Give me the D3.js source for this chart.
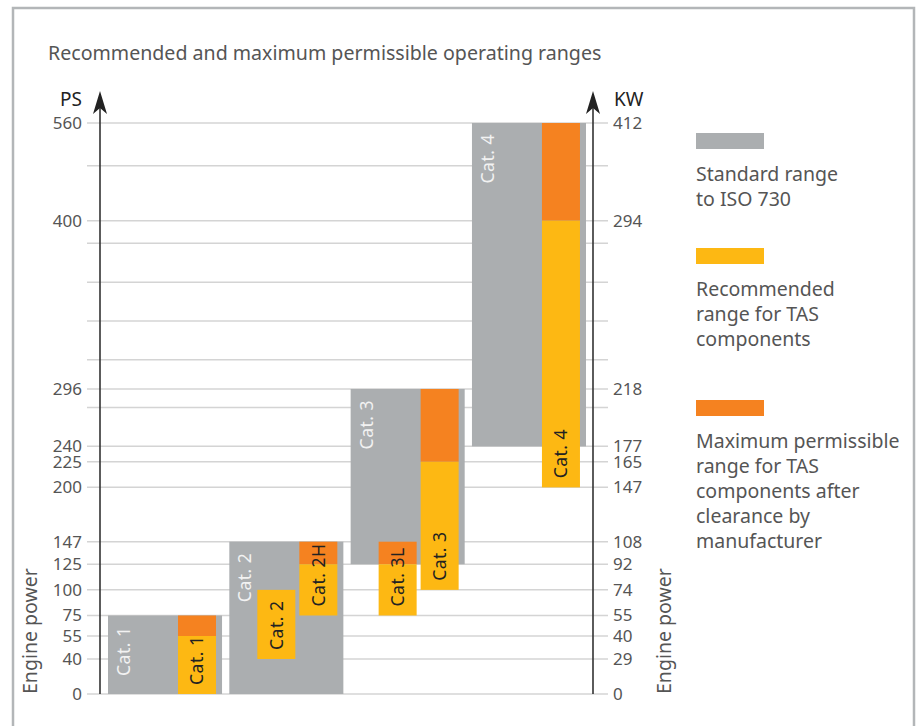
<!DOCTYPE html>
<meta charset="utf-8">
<style>
  body { margin: 0; background: #fff; }
  svg text { font-family: "Noto Sans", "Open Sans", sans-serif; }
</style>
<script src="https://d3js.org/d3.v7.min.js"></script>
<div id="chart"></div>
<script>

  // --- data (engine power in PS) ---
  var categories = ["Cat. 1", "Cat. 2", "Cat. 3", "Cat. 4"]
  var standardLow = [0, 0, 125, 240]
  var standardHigh = [75, 147, 296, 560]

  var tasLabels = ["Cat. 1", "Cat. 2", "Cat. 2H", "Cat. 3L", "Cat. 3", "Cat. 4"]
  var tasGroup = ["Cat. 1", "Cat. 2", "Cat. 2", "Cat. 3", "Cat. 3", "Cat. 4"]
  var tasSlot = [1, 0, 1, 0, 1, 1]
  var recLow = [0, 40, 75, 75, 100, 200]
  var recHigh = [55, 100, 125, 125, 225, 400]
  var maxHigh = [75, 100, 147, 147, 296, 560]

  var psTicks = [0, 40, 55, 75, 100, 125, 147, 200, 225, 240, 296, 400, 560]
  var kwTicks = [0, 29, 40, 55, 74, 92, 108, 147, 165, 177, 218, 294, 412]
  var extraGrid = [490, 386, 362, 338, 314, 278]

  var legendLabels = [
    ["Standard range", "to ISO 730"],
    ["Recommended", "range for TAS", "components"],
    ["Maximum permissible", "range for TAS", "components after", "clearance by", "manufacturer"]
  ]

  var colGray = "#abaeb0", colYellow = "#fdb813", colOrange = "#f58220"

  var W = 922, H = 726
  var plotTop = 123, plotBottom = 694
  var axisLeftX = 100, axisRightX = 593

  var svg = d3.select("#chart").append("svg")
    .attr("width", W).attr("height", H)

  // frame
  svg.append("path")
    .attr("d", "M13,740 L13,8 L914,8 L914,740")
    .attr("fill", "none")
    .attr("stroke", "#b3b6b8")
    .attr("stroke-width", 2.5)

  svg.append("text")
    .attr("x", 48).attr("y", 60)
    .style("font-size", "19.6px")
    .style("fill", "#555")
    .text("Recommended and maximum permissible operating ranges")

  // piecewise scale, the chart's axis is not linear
  var h = plotBottom - plotTop
  var y = d3.scaleLinear()
    .domain([0, 40, 55, 296, 400, 560])
    .range([0, 0.0613, 0.1016, 0.5342, 0.829, 1].map(function (f) { return plotBottom - f * h }))

  var x = d3.scaleBand()
    .domain(categories)
    .range([108, 586])
    .paddingInner(0.06)

  var slot = d3.scaleBand()
    .domain([0, 1])
    .range([28, 108])
    .paddingInner(0.095)

  // gridlines
  svg.append("g")
    .selectAll("line")
    .data(psTicks.concat(extraGrid))
    .enter().append("line")
    .attr("x1", 87).attr("x2", 608)
    .attr("y1", function (d) { return y(d) })
    .attr("y2", function (d) { return y(d) })
    .attr("stroke", "#d4d4d4")
    .attr("stroke-width", 1.5)

  // tick labels via axes
  var leftAxis = svg.append("g")
    .attr("transform", "translate(84,0)")
    .call(d3.axisLeft(y).tickValues(psTicks).tickSize(0).tickPadding(2))
  var rightAxis = svg.append("g")
    .attr("transform", "translate(611,0)")
    .call(d3.axisRight(y).tickValues(psTicks).tickSize(0).tickPadding(2)
      .tickFormat(function (d, i) { return kwTicks[i] }))
  ;[leftAxis, rightAxis].forEach(function (a) {
    a.select(".domain").remove()
    a.selectAll("text")
      .style("font-family", "'Noto Sans', sans-serif")
      .style("font-size", "17px")
      .style("fill", "#555")
  })

  // standard range bars
  svg.append("g")
    .selectAll("rect")
    .data(categories)
    .enter().append("rect")
    .attr("x", function (d) { return x(d) })
    .attr("width", x.bandwidth())
    .attr("y", function (d, i) { return y(standardHigh[i]) })
    .attr("height", function (d, i) { return y(standardLow[i]) - y(standardHigh[i]) })
    .attr("fill", colGray)

  svg.append("g")
    .selectAll("text")
    .data(categories)
    .enter().append("text")
    .attr("transform", function (d, i) {
      return "translate(" + (x(d) + 22) + "," + (y(standardHigh[i]) + 11) + ") rotate(-90)"
    })
    .attr("text-anchor", "end")
    .style("font-size", "17.5px")
    .style("fill", "#f2f2f2")
    .style("letter-spacing", "0.5px")
    .text(function (d) { return d })

  // TAS bars: orange = max permissible, yellow = recommended
  var tasX = function (i) { return x(tasGroup[i]) + slot(tasSlot[i]) }

  svg.append("g")
    .selectAll("rect")
    .data(tasLabels)
    .enter().append("rect")
    .attr("x", function (d, i) { return tasX(i) })
    .attr("width", slot.bandwidth())
    .attr("y", function (d, i) { return y(maxHigh[i]) })
    .attr("height", function (d, i) { return y(recHigh[i]) - y(maxHigh[i]) })
    .attr("fill", colOrange)

  svg.append("g")
    .selectAll("rect")
    .data(tasLabels)
    .enter().append("rect")
    .attr("x", function (d, i) { return tasX(i) })
    .attr("width", slot.bandwidth())
    .attr("y", function (d, i) { return y(recHigh[i]) })
    .attr("height", function (d, i) { return y(recLow[i]) - y(recHigh[i]) })
    .attr("fill", colYellow)

  svg.append("g")
    .selectAll("text")
    .data(tasLabels)
    .enter().append("text")
    .attr("transform", function (d, i) {
      return "translate(" + (tasX(i) + slot.bandwidth() / 2 + 6.5) + "," + (y(recLow[i]) - 9) + ") rotate(-90)"
    })
    .style("font-size", "17.5px")
    .style("fill", "#222")
    .style("letter-spacing", "0.5px")
    .text(function (d) { return d })

  // vertical axes with arrow heads
  ;[axisLeftX, axisRightX].forEach(function (ax) {
    svg.append("line")
      .attr("x1", ax).attr("x2", ax)
      .attr("y1", plotBottom).attr("y2", 100)
      .attr("stroke", "#333")
      .attr("stroke-width", 1.6)
    svg.append("path")
      .attr("d", "M" + ax + ",91 L" + (ax + 7) + ",114 L" + ax + ",108 L" + (ax - 7) + ",114 Z")
      .attr("fill", "#222")
  })

  svg.append("text")
    .attr("x", 82).attr("y", 106)
    .attr("text-anchor", "end")
    .style("font-size", "19px")
    .style("fill", "#222")
    .text("PS")
  svg.append("text")
    .attr("x", 614).attr("y", 106)
    .style("font-size", "19px")
    .style("fill", "#222")
    .text("KW")

  // axis titles
  svg.append("text")
    .attr("transform", "translate(37," + plotBottom + ") rotate(-90)")
    .style("font-size", "19.5px")
    .style("fill", "#555")
    .text("Engine power")
  svg.append("text")
    .attr("transform", "translate(671," + plotBottom + ") rotate(-90)")
    .style("font-size", "19.5px")
    .style("fill", "#555")
    .text("Engine power")

  // legend
  var legendColors = [colGray, colYellow, colOrange]
  var legendTop = [133, 248, 400]
  var legend = svg.append("g")
  legendLabels.forEach(function (lines, k) {
    legend.append("rect")
      .attr("x", 696).attr("y", legendTop[k])
      .attr("width", 68).attr("height", 16)
      .attr("fill", legendColors[k])
    var t = legend.append("text")
      .style("font-size", "19.5px")
      .style("fill", "#555")
    lines.forEach(function (s, j) {
      t.append("tspan")
        .attr("x", 696)
        .attr("y", legendTop[k] + 48 + j * 25)
        .text(s)
    })
  })

</script>
